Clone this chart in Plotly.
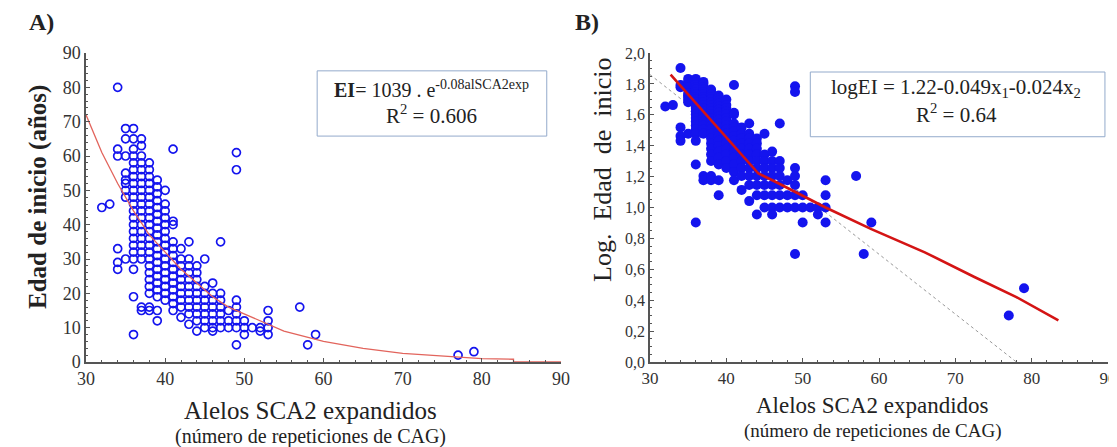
import numpy as np
import plotly.graph_objects as go

# CAG repeat length and age at onset (years)
cag = ([32, 33] +
       [34] * 6 + [35] * 9 + [36] * 22 + [37] * 20 + [38] * 22 + [39] * 20 +
       [40] * 16 + [41] * 14 + [42] * 10 + [43] * 11 + [44] * 10 + [45] * 8 +
       [46] * 8 + [47] * 7 + [48] * 3 + [49] * 8 + [50] * 3 + [51] + [52] * 2 +
       [53] * 4 + [57, 58, 59, 77, 79])
age = ([45, 46] +
       [80, 62, 60, 33, 29, 27] +
       [68, 65, 60, 55, 53, 52, 50, 48, 30] +
       [68, 65, 62, 60, 58, 56, 54, 52, 50, 48, 46, 44, 42, 40, 38, 36, 34, 32, 30, 27, 19, 8] +
       [65, 63, 60, 58, 56, 54, 52, 50, 48, 46, 44, 42, 40, 38, 36, 34, 32, 30, 16, 15] +
       [58, 56, 54, 52, 50, 48, 46, 44, 42, 40, 38, 36, 34, 32, 30, 28, 26, 24, 22, 20, 16, 15] +
       [53, 51, 49, 47, 45, 43, 41, 39, 37, 35, 33, 31, 29, 27, 25, 23, 21, 19, 15, 12] +
       [50, 46, 44, 42, 40, 38, 36, 34, 32, 30, 28, 26, 24, 22, 20, 18] +
       [62, 41, 40, 35, 33, 31, 29, 27, 25, 23, 21, 19, 17, 15] +
       [33, 30, 28, 26, 24, 22, 20, 18, 16, 13] +
       [35, 30, 28, 26, 24, 22, 20, 18, 16, 14, 11] +
       [28, 26, 24, 22, 20, 18, 16, 14, 12, 9] +
       [30, 22, 20, 18, 16, 14, 12, 10] +
       [23, 20, 18, 16, 14, 12, 10, 9] +
       [35, 20, 18, 16, 14, 12, 10] +
       [15, 12, 10] +
       [61, 56, 18, 16, 14, 12, 10, 5] +
       [12, 10, 8] +
       [10] +
       [10, 9] +
       [15, 12, 10, 8] +
       [16, 5, 8, 2, 3])
log_age = np.log10(age)

# exponential fit, panel A
fit_a_x = [30, 32, 34, 36, 38, 40, 42, 44, 46, 48, 50, 55, 60, 65, 70, 75, 80, 84, 84, 90]
fit_a_y = [72, 61, 52, 44, 37, 32, 27, 23, 19, 16, 14, 9, 6, 4, 2.5, 1.7, 1, 0.8, 0, 0]

# segmented fit, panel B
fit_b_x = [32.7, 44.2, 46.3, 53, 59, 66, 72.5, 78, 83.5]
fit_b_y = [1.86, 1.22, 1.17, 1.0, 0.86, 0.71, 0.55, 0.42, 0.27]
lin_b_x = [30, 78]
lin_b_y = [1.86, 0.0]

serif = "Liberation Serif"
blue = "#1414ee"
W, H = 1117, 447
OFF = 8  # page body margin


def px(x):
    return (x - OFF) / W


def py(y):
    return 1 - (y - OFF) / H


fig = go.Figure()
fig.add_trace(go.Scatter(x=cag, y=age, mode="markers", xaxis="x", yaxis="y",
                         marker=dict(symbol="circle-open", size=8, color=blue,
                                     line=dict(width=1.7, color=blue))))
fig.add_trace(go.Scatter(x=fit_a_x, y=fit_a_y, mode="lines", xaxis="x", yaxis="y",
                         line=dict(color="#e2645c", width=1.3)))
fig.add_trace(go.Scatter(x=lin_b_x, y=lin_b_y, mode="lines", xaxis="x2", yaxis="y2",
                         line=dict(color="#999999", width=1, dash="dot")))
fig.add_trace(go.Scatter(x=cag, y=log_age, mode="markers", xaxis="x2", yaxis="y2",
                         marker=dict(symbol="circle", size=10, color=blue)))
fig.add_trace(go.Scatter(x=fit_b_x, y=fit_b_y, mode="lines", xaxis="x2", yaxis="y2",
                         line=dict(color="#d41414", width=2.6)))

axis_style = dict(showline=True, linecolor="#555555", linewidth=1.5, showgrid=False,
                  zeroline=False, ticks="inside", ticklen=4, tickcolor="#555555",
                  automargin=False, mirror=False)
minor_style = dict(ticks="inside", ticklen=2, tickcolor="#555555")

ydom = [py(362), py(53)]
fig.update_layout(
    width=W, height=H, showlegend=False,
    margin=dict(l=0, r=0, t=0, b=0, pad=0, autoexpand=False),
    plot_bgcolor="white", paper_bgcolor="white",
    font=dict(family=serif, color="#333333"),
    separators=",.",
    xaxis=dict(domain=[px(86), px(561)], range=[30, 90], dtick=10,
               minor=dict(dtick=2, **minor_style), anchor="y", **axis_style),
    yaxis=dict(domain=ydom, range=[0, 90], dtick=10,
               minor=dict(dtick=2, **minor_style), anchor="x", **axis_style),
    xaxis2=dict(domain=[px(650), px(1108)], range=[30, 90], dtick=10,
                minor=dict(dtick=2, **minor_style), anchor="y2", **axis_style),
    yaxis2=dict(domain=ydom, range=[0, 2.0], dtick=0.2, tickformat=".1f",
                minor=dict(dtick=0.05, **minor_style), anchor="x2", **axis_style),
)
fig.update_xaxes(tickfont=dict(family=serif, size=18, color="#333333"))
fig.update_yaxes(tickfont=dict(family=serif, size=18, color="#333333"))
fig.update_layout(yaxis2_tickfont_size=16, xaxis2_tickfont_size=17)

# equation boxes
fig.add_shape(type="rect", xref="x", yref="y", x0=59.2, x1=88.2, y0=65.8, y1=84.8,
              line=dict(color="#93aacb", width=1), fillcolor="white")
fig.add_shape(type="rect", xref="x2", yref="y2", x0=51, x1=89.6, y0=1.458, y1=1.877,
              line=dict(color="#93aacb", width=1), fillcolor="white")

ann = [
    dict(xref="x", yref="y", x=73.7, y=79.5,
         text="<b>EI</b>= 1039 . e<sup>-0.08alSCA2exp</sup>", size=20),
    dict(xref="x", yref="y", x=73.7, y=72.0, text="R<sup>2</sup> = 0.606", size=21),
    dict(xref="x2", yref="y2", x=70.1, y=1.774,
         text="logEI = 1.22-0.049x<sub>1</sub>-0.024x<sub>2</sub>", size=21),
    dict(xref="x2", yref="y2", x=70.1, y=1.608, text="R<sup>2</sup> = 0.64", size=21),
]
paper_ann = [
    (41, 22, "<b>A)</b>", 24, 0),
    (587, 22, "<b>B)</b>", 24, 0),
    (311, 410, "Alelos SCA2 expandidos", 25, 0),
    (311, 436, "(número de repeticiones de CAG)", 20, 0),
    (873, 405, "Alelos SCA2 expandidos", 23, 0),
    (873, 431, "(número de repeticiones de CAG)", 19, 0),
    (38, 197, "<b>Edad de inicio (años)</b>", 25, -90),
    (603, 170, "Log.  Edad  de  inicio", 26, -90),
]
for x, y, t, s, ang in paper_ann:
    ann.append(dict(xref="paper", yref="paper", x=px(x), y=py(y), text=t, size=s,
                    textangle=ang))

for a in ann:
    fig.add_annotation(xref=a["xref"], yref=a["yref"], x=a["x"], y=a["y"], text=a["text"],
                       showarrow=False, xanchor="center", yanchor="middle",
                       textangle=a.get("textangle", 0),
                       font=dict(family=serif, size=a["size"], color="#222222"))

fig.write_html("out.html")
